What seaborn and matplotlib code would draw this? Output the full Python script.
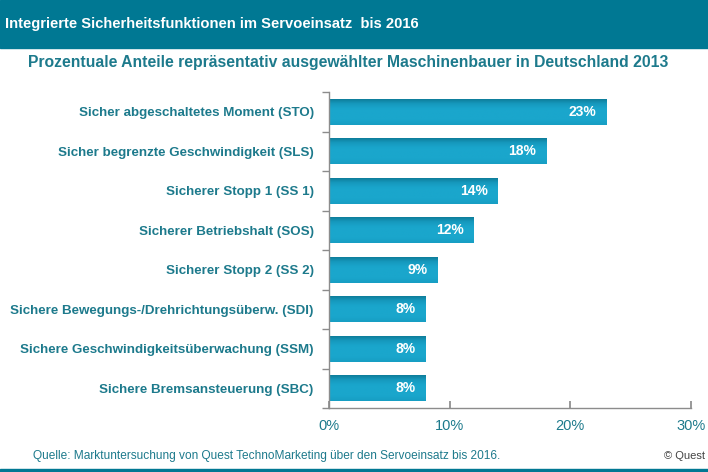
import matplotlib
matplotlib.use("Agg")
import matplotlib.pyplot as plt
import seaborn as sns
import numpy as np
import pandas as pd
from matplotlib.ticker import FixedLocator, PercentFormatter
from matplotlib.colors import LinearSegmentedColormap

categories = [
    "Sicher abgeschaltetes Moment (STO)",
    "Sicher begrenzte Geschwindigkeit (SLS)",
    "Sicherer Stopp 1 (SS 1)",
    "Sicherer Betriebshalt (SOS)",
    "Sicherer Stopp 2 (SS 2)",
    "Sichere Bewegungs-/Drehrichtungsüberw. (SDI)",
    "Sichere Geschwindigkeitsüberwachung (SSM)",
    "Sichere Bremsansteuerung (SBC)",
]
values = [23, 18, 14, 12, 9, 8, 8, 8]
xticks = [0, 10, 20, 30]

title = "Integrierte Sicherheitsfunktionen im Servoeinsatz  bis 2016"
subtitle = "Prozentuale Anteile repräsentativ ausgewählter Maschinenbauer in Deutschland 2013"
source = "Quelle: Marktuntersuchung von Quest TechnoMarketing über den Servoeinsatz bis 2016."
copyright_txt = "© Quest"

TEAL = "#007893"
TEXT = "#1d7a8c"
BAR = "#19a4c9"
FONT = ["Liberation Sans", "DejaVu Sans"]

sns.set_theme(style="white")
plt.rcParams["font.family"] = FONT

df = pd.DataFrame({"cat": categories, "val": values})

fig = plt.figure(figsize=(7.08, 4.72), dpi=100)
ax = fig.add_axes([329 / 708, (472 - 408) / 472, (691 - 329) / 708, (408 - 92) / 472])

sns.barplot(data=df, x="val", y="cat", ax=ax, color=BAR, width=0.66,
            saturation=1, edgecolor="none")

# gradient overlay on bars
cmap = LinearSegmentedColormap.from_list(
    "g", ["#0c7893", "#1698bd", "#1aa6cc", "#1aa6cc", "#1aa6cc", "#179ec3"])
grad = np.linspace(0, 1, 64).reshape(-1, 1)
for p in ax.patches:
    x0, y0 = p.get_x(), p.get_y()
    w, h = p.get_width(), p.get_height()
    im = ax.imshow(grad, extent=[x0, x0 + w, y0 + h, y0], cmap=cmap,
                   aspect="auto", zorder=p.get_zorder() + 0.1)
    im.set_clip_path(p)

for p, v in zip(ax.patches, values):
    ax.text(p.get_x() + p.get_width() - 0.85, p.get_y() + p.get_height() / 2,
            f"{v}%", ha="right", va="center", color="white",
            fontsize=10, fontweight="bold", zorder=5)

ax.set_xlim(0, 30)
ax.set_ylim(len(categories) - 0.5, -0.5)
ax.set_xlabel("")
ax.set_ylabel("")
ax.xaxis.set_major_locator(FixedLocator(xticks))
ax.xaxis.set_major_formatter(PercentFormatter(decimals=0))
for s in ["top", "right"]:
    ax.spines[s].set_visible(False)
for s in ["left", "bottom"]:
    ax.spines[s].set_color("#8c8c8c")
    ax.spines[s].set_linewidth(1.0)

ax.tick_params(axis="x", direction="in", length=5, color="#8c8c8c",
               labelsize=10.5, labelcolor=TEXT, pad=8, bottom=True)
ax.tick_params(axis="y", which="major", length=0, labelsize=9.6,
               labelcolor=TEXT, pad=11)
ax.yaxis.set_minor_locator(FixedLocator(np.arange(-0.5, len(categories), 1.0)))
ax.tick_params(axis="y", which="minor", direction="out", length=5,
               color="#8c8c8c", left=True)
for lab in ax.get_yticklabels():
    lab.set_fontweight("bold")

# header and footer bands
fig.patches.append(plt.Rectangle((0, 1 - 48 / 472), 1, 48 / 472,
                                 transform=fig.transFigure, color=TEAL, zorder=0))
fig.patches.append(plt.Rectangle((0, 0), 1, 3.5 / 472,
                                 transform=fig.transFigure, color=TEAL, zorder=0))
fig.text(5 / 708, 1 - 24 / 472, title, color="white", fontsize=10.6,
         fontweight="bold", ha="left", va="center")
fig.text(348 / 708, 1 - 62 / 472, subtitle, color=TEXT, fontsize=11.3,
         fontweight="bold", ha="center", va="center")
fig.text(33 / 708, 1 - 456 / 472, source, color=TEXT, fontsize=8.6,
         ha="left", va="center")
fig.text(705 / 708, 1 - 456 / 472, copyright_txt, color="#444444", fontsize=8,
         ha="right", va="center")

fig.savefig("out.png", dpi=100)
